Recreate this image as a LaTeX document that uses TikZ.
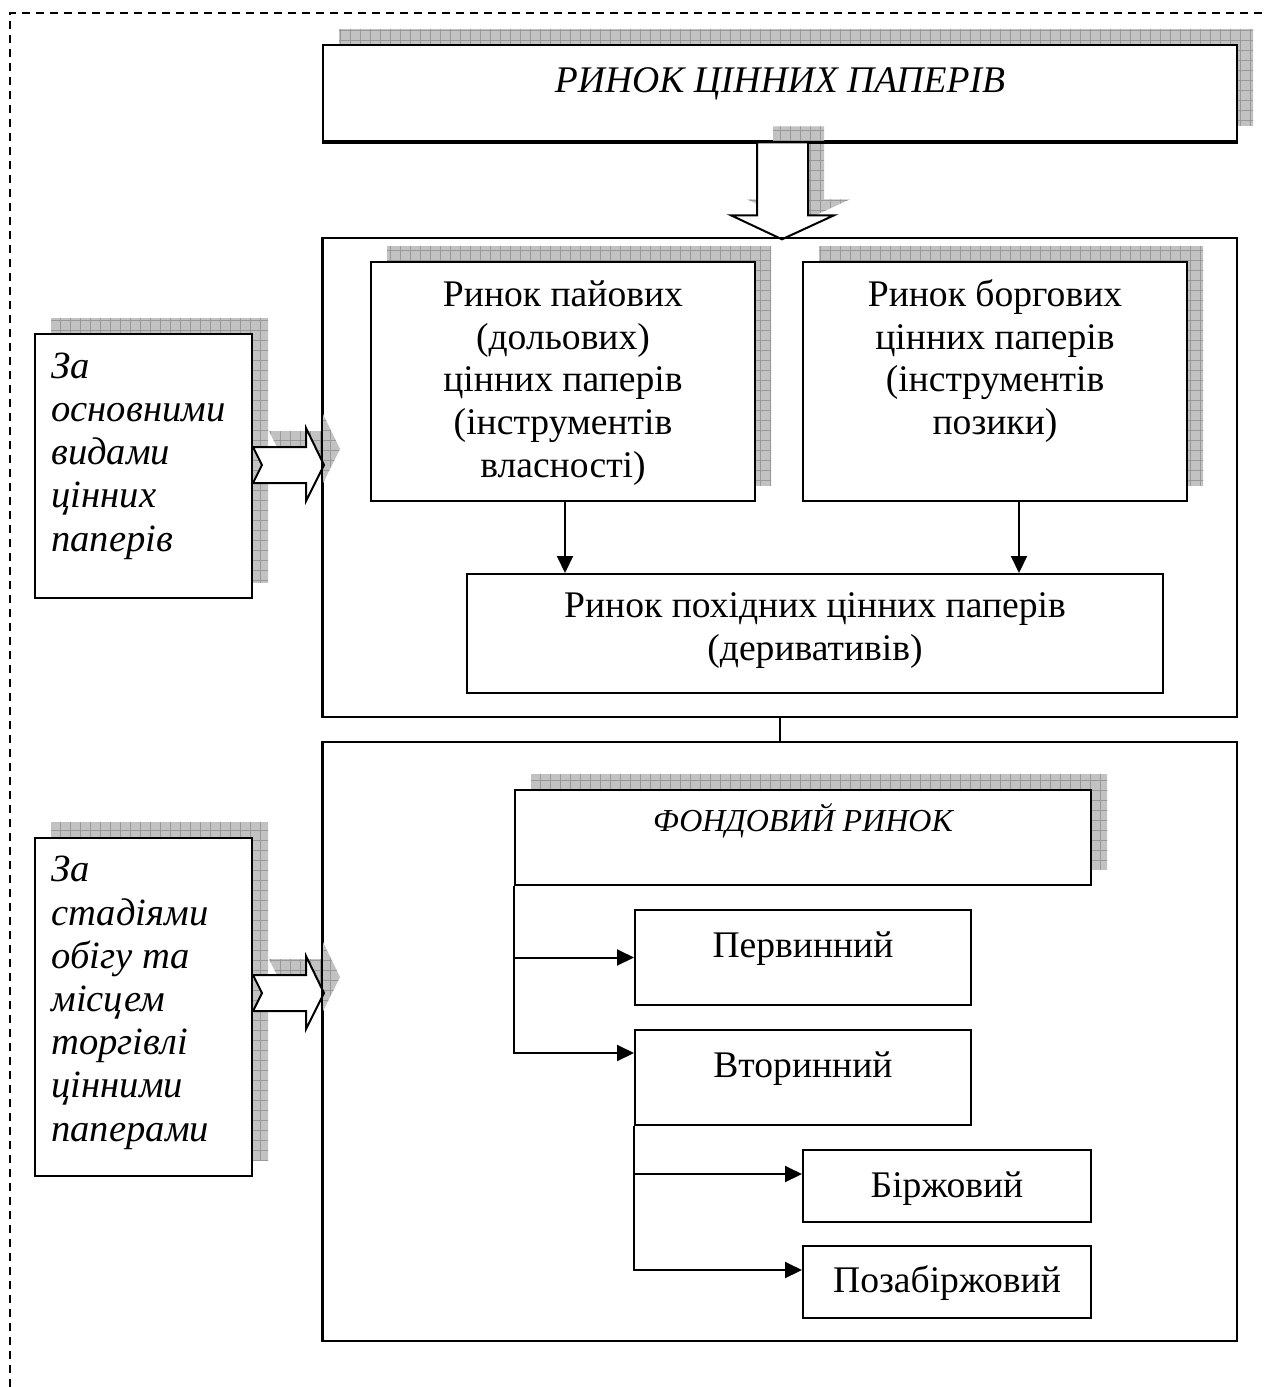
\documentclass[tikz,border=0pt]{standalone}
\usepackage{fontspec}
\setmainfont{Liberation Serif}
\usetikzlibrary{arrows.meta,fit,calc}

\tikzset{
  box/.style={draw, line width=1pt, fill=white, inner sep=0pt},
  titlebox/.style={box, line width=1.3pt},
  framebox/.style={draw, line width=1pt, inner sep=0pt},
  txt/.style={font=\fontsize{18.8}{21.3}\selectfont, inner sep=0pt, align=center, anchor=base},
  ttl/.style={txt, font=\fontsize{18.8}{21.3}\selectfont\itshape},
  smallttl/.style={txt, font=\fontsize{16}{19}\selectfont\itshape},
  sidetxt/.style={font=\fontsize{19.3}{21.6}\selectfont\itshape, inner sep=0pt, align=left, anchor=base west},
  link/.style={line width=1pt},
  arr/.style={line width=1pt, -{Triangle[length=8.5pt,width=8pt]}},
  bigarrow/.style={draw, line width=1pt, fill=white, line join=miter},
  border/.style={line width=1pt, dash pattern=on 4pt off 3pt},
  shfill/.style={fill=black!24},
  shgrid/.style={draw=black!40, line width=0.45pt},
}

% grid-textured drop shadow, clipped to the given path
\newcommand{\gridshadow}[2][]{%
  \begin{scope}
    \clip[#1] #2;
    \fill[shfill] (0,0) rectangle (1264,1387);
    \foreach \g in {0,10,...,1260} \draw[shgrid] (\g,0) -- (\g,1387);
    \foreach \g in {0,10,...,1380} \draw[shgrid] (0,\g) -- (1264,\g);
  \end{scope}}

\begin{document}
\begin{tikzpicture}[x=0.5pt,y=-0.5pt]
\useasboundingbox (0,0) rectangle (1264,1387);

% outer dashed border (top and left sides)
\draw[border] (10,1387) -- (10,13) -- (1264,13);

% shadows of the shaded boxes
\gridshadow{(339,29) rectangle (1253,125)}
\gridshadow{(387,246) rectangle (771,485)}
\gridshadow{(819,246) rectangle (1203,485)}
\gridshadow{(531,774) rectangle (1107,869)}
\gridshadow{(51,318) rectangle (268,582)}
\gridshadow{(51,822) rectangle (268,1160)}

% title box
\node[titlebox, fit={(323,45) (1237,141)}] (title) {};
\node[ttl] (ttitle) at (780,92) {РИНОК ЦІННИХ ПАПЕРІВ};

% wide arrow from the title down to the upper frame
\gridshadow[shift={($(title.south)+(16,-16)$)}]{(-23,0) -- (28,0) -- (28,73) -- (54,73) -- (2,97) -- (-49,73) -- (-23,73) -- cycle}
\draw[line width=1.3pt] (title.south west) -- (title.south east);
\draw[bigarrow, shift={(title.south)}] (-23,0) -- (28,0) -- (28,73) -- (54,73) -- (2,97) -- (-49,73) -- (-23,73) -- cycle;

% upper frame: kinds of securities (multi-line text sits on its last baseline)
\node[framebox, fit={(323,238) (1237,717)}] (frameA) {};
\node[box, fit={(371,262) (755,501)}] (equity) {};
\node[txt] (tequity) at (563,477) {Ринок пайових\\(дольових)\\цінних паперів\\(інструментів\\власності)};
\node[box, fit={(803,262) (1187,501)}] (debt) {};
\node[txt] (tdebt) at (995,434.5) {Ринок боргових\\цінних паперів\\(інструментів\\позики)};
\node[box, fit={(467,574) (1163,693)}] (deriv) {};
\node[txt] (tderiv) at (815,660.5) {Ринок похідних цінних паперів\\(деривативів)};

\coordinate (eqout) at ($(equity.south)+(2,0)$);
\coordinate (dbout) at ($(debt.south)+(24,0)$);
\draw[arr] (eqout) -- (eqout |- deriv.north);
\draw[arr] (dbout) -- (dbout |- deriv.north);

% lower frame: stages of circulation
\node[framebox, fit={(323,742) (1237,1341)}] (frameB) {};
\draw[link] (frameA.south) -- (frameB.north);

\node[box, fit={(515,790) (1091,885)}] (stock) {};
\node[smallttl] (tstock) at (803,831) {ФОНДОВИЙ РИНОК};
\node[box, fit={(635,910) (971,1005)}] (prim) {};
\node[txt] (tprim) at (803,957) {Первинний};
\node[box, fit={(635,1030) (971,1125)}] (sec) {};
\node[txt] (tsec) at (803,1077) {Вторинний};
\node[box, fit={(803,1150) (1091,1222)}] (exch) {};
\node[txt] (texch) at (947,1197) {Біржовий};
\node[box, fit={(803,1246) (1091,1318)}] (otc) {};
\node[txt] (totc) at (947,1292) {Позабіржовий};

\coordinate (secin) at ($(sec.north west)+(0,24)$);
\coordinate (exin) at ($(exch.north west)+(0,25)$);
\coordinate (otcin) at ($(otc.north west)+(0,25)$);
\draw[arr] (stock.south west) |- (secin);
\draw[arr] (stock.south west |- prim.west) -- (prim.west);
\draw[arr] (sec.south west) |- (otcin);
\draw[arr] (sec.south west |- exin) -- (exin);

% classification criteria on the left
\node[box, fit={(35,334) (252,598)}] (crit1) {};
\node[sidetxt] (tcrit1) at (51,551) {За\\основними\\видами\\цінних\\паперів};
\node[box, fit={(35,838) (252,1176)}] (crit2) {};
\node[sidetxt] (tcrit2) at (51,1141) {За\\стадіями\\обігу та\\місцем\\торгівлі\\цінними\\паперами};

% notched arrows from the criteria to the frames
\gridshadow[shift={($(crit1.north east)+(16,116)$)}]{(0,-18) -- (53,-18) -- (53,-37) -- (71,0) -- (53,36) -- (53,18) -- (0,18) -- (9,0) -- cycle}
\draw[bigarrow, shift={($(crit1.north east)+(0,132)$)}] (0,-18) -- (53,-18) -- (53,-37) -- (71,0) -- (53,36) -- (53,18) -- (0,18) -- (9,0) -- cycle;
\gridshadow[shift={($(crit2.north east)+(16,140)$)}]{(0,-18) -- (53,-18) -- (53,-37) -- (71,0) -- (53,36) -- (53,18) -- (0,18) -- (9,0) -- cycle}
\draw[bigarrow, shift={($(crit2.north east)+(0,156)$)}] (0,-18) -- (53,-18) -- (53,-37) -- (71,0) -- (53,36) -- (53,18) -- (0,18) -- (9,0) -- cycle;
\draw[framebox] (frameA.north west) -- (frameA.south west);
\draw[framebox] (frameB.north west) -- (frameB.south west);
\end{tikzpicture}
\end{document}
